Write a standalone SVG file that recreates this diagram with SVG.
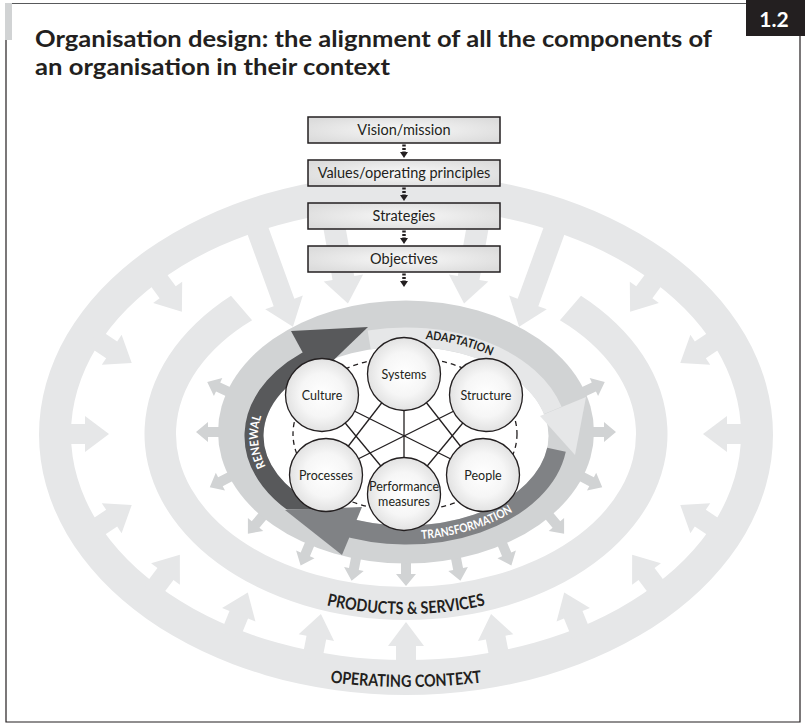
<svg xmlns="http://www.w3.org/2000/svg" width="805" height="727" viewBox="0 0 805 727">
<defs>
<style>
.t{font-family:Lato,"Liberation Sans",Arial,sans-serif;fill:#231f20}
.w{fill:#fff}
.b{font-weight:700}
.lt{fill:#e6e7e8}
.md{fill:#d1d3d4}
.bx{fill:url(#gb);stroke:#231f20;stroke-width:1.5}
.cir{fill:url(#gc);stroke:#231f20;stroke-width:1.3}
.ln{stroke:#231f20;stroke-width:1.3;fill:none}
.dl{stroke:#231f20;stroke-width:3.5;stroke-dasharray:2 1.5;fill:none;marker-end:url(#ah)}
.ct{font-size:12.5px;text-anchor:middle}
.bt{font-size:14.5px;text-anchor:middle}
.rl{font-size:17px;font-weight:700;text-anchor:middle}
.il{font-size:12px;font-weight:700;text-anchor:middle}
</style>
<radialGradient id="gc" cx="0.5" cy="0.5" r="0.5"><stop offset="0" stop-color="#ffffff"/><stop offset="0.6" stop-color="#f6f6f6"/><stop offset="1" stop-color="#e2e2e2"/></radialGradient>
<radialGradient id="gb" cx="0.5" cy="0.5" r="0.6"><stop offset="0" stop-color="#f8f8f8"/><stop offset="1" stop-color="#dcdcdc"/></radialGradient>
<marker id="ah" viewBox="0 0 6 8" refX="0" refY="4" markerWidth="6" markerHeight="8" markerUnits="userSpaceOnUse" orient="auto"><path d="M0,0 L6,4 L0,8 Z" fill="#231f20"/></marker>
<polygon id="oa" points="-8,-10 14,-10 14,-18 38,0 14,18 14,10 -8,10"/>
<polygon id="ia" points="-6,-5 10,-5 10,-10 22,0 10,10 10,5 -6,5"/>
<polygon id="la1" points="-8,-11 76,-11 76,-20 102,0 76,20 76,11 -8,11"/>
<polygon id="la2" points="-8,-11 65,-11 65,-20 91,0 65,20 65,11 -8,11"/>
<clipPath id="cr"><rect x="200" y="300" width="200" height="209.5"/></clipPath>
<path id="pRen" d="M 277.8 483.5 A 148 95 0 0 1 270.8 397.4"/>
<path id="pAda" d="M 380 339.5 A 150 97 0 0 1 529 380.5"/>
<path id="pTra" d="M 384.2 538.5 A 156.5 103.5 0 0 0 541.5 487.8"/>
<path id="pPS" d="M 259.2 581.5 A 256 180 0 0 0 552.8 581.5"/>
<path id="pOC" d="M 206 653.1 A 400 253 0 0 0 606 653.1"/>
</defs>

<g id="frame">
<rect x="5" y="3" width="7" height="37" fill="#d1d3d4"/>
<path d="M12 3.5 H746" stroke="#58595b" stroke-width="1.2"/>
<path d="M6 40 V722 H800 V36" fill="none" stroke="#231f20" stroke-width="1.2"/>
<rect x="746" y="0" width="59" height="36" fill="#231f20"/>
<text class="t b w" x="774" y="27" font-size="21" text-anchor="middle">1.2</text>
<text class="t b" x="35" y="47" font-size="23" textLength="677" lengthAdjust="spacingAndGlyphs">Organisation design: the alignment of all the components of</text>
<text class="t b" x="35" y="75" font-size="23" textLength="355" lengthAdjust="spacingAndGlyphs">an organisation in their context</text>
</g>

<g id="operating-context" class="lt">
<path fill-rule="evenodd" d="M 39 434.5 A 367 260.5 0 1 0 773 434.5 A 367 260.5 0 1 0 39 434.5 Z M 71 434 A 335 226 0 1 0 741 434 A 335 226 0 1 0 71 434 Z"/>
<use href="#oa" transform="translate(406,660) rotate(-90)"/>
<use href="#oa" transform="translate(313.7,651.3) rotate(-79.05)"/>
<use href="#oa" transform="translate(233.5,627.7) rotate(-67.9)"/>
<use href="#oa" transform="translate(157.1,585.2) rotate(-53.2)"/>
<use href="#oa" transform="translate(100,525.9) rotate(-33.4)"/>
<use href="#oa" transform="translate(71,434) rotate(0)"/>
<use href="#oa" transform="translate(100,342.1) rotate(33.4)"/>
<use href="#oa" transform="translate(159.4,281) rotate(53.7)"/>
<use href="#oa" transform="translate(498.3,651.3) rotate(-100.95)"/>
<use href="#oa" transform="translate(578.5,627.7) rotate(-112.1)"/>
<use href="#oa" transform="translate(654.9,585.2) rotate(-126.8)"/>
<use href="#oa" transform="translate(712,525.9) rotate(-146.6)"/>
<use href="#oa" transform="translate(741,434) rotate(180)"/>
<use href="#oa" transform="translate(712,342.1) rotate(146.6)"/>
<use href="#oa" transform="translate(652.6,281) rotate(126.3)"/>
<use href="#la1" transform="translate(258,231) rotate(69.97)"/>
<use href="#la2" transform="translate(332,214) rotate(79.9)"/>
<use href="#la2" transform="translate(480,214) rotate(100.1)"/>
<use href="#la1" transform="translate(554,231) rotate(110.03)"/>
</g>

<g id="products-services">
<path class="lt" d="M 581 295.8 A 261.5 186 0 1 1 231 295.8 L 252.1 320.3 A 230 153 0 1 0 559.9 320.3 Z"/>
</g>

<g id="inner-ring">
<g class="md">
<use href="#ia" transform="translate(406,564) rotate(90)"/>
<use href="#ia" transform="translate(355.8,559.2) rotate(101)"/>
<use href="#ia" transform="translate(309.2,545.2) rotate(112.9)"/>
<use href="#ia" transform="translate(262,516.8) rotate(129.9)"/>
<use href="#ia" transform="translate(229.3,477.1) rotate(152.6)"/>
<use href="#ia" transform="translate(218,432) rotate(180)"/>
<use href="#ia" transform="translate(227.2,391.2) rotate(204.8)"/>
<use href="#ia" transform="translate(456.2,559.2) rotate(79)"/>
<use href="#ia" transform="translate(502.8,545.2) rotate(67.1)"/>
<use href="#ia" transform="translate(550,516.8) rotate(50.1)"/>
<use href="#ia" transform="translate(582.7,477.1) rotate(27.4)"/>
<use href="#ia" transform="translate(594,432) rotate(0)"/>
<use href="#ia" transform="translate(584.8,391.2) rotate(-24.8)"/>
</g>
<ellipse cx="406" cy="432" rx="188" ry="131.5" fill="#d1d3d4"/>
<ellipse cx="406" cy="436" rx="142.5" ry="89.5" fill="#ffffff"/>
<path d="M 556.5 449.8 A 152 99 0 0 1 339.4 525" stroke="#808285" stroke-width="19" fill="none"/>
<path d="M 312.4 514 A 152 99 0 0 1 318.8 354.9" stroke="#58595b" stroke-width="19" fill="none" clip-path="url(#cr)"/>
<path d="M 369.2 339.9 A 152 99 0 0 1 552.8 410.4" stroke="#e6e7e8" stroke-width="19" fill="none"/>
<polygon points="285,510 362,507 342,555" fill="#808285"/>
<polygon points="368,327 291,331 316,377" fill="#58595b"/>
<polygon points="586,397 540,416 575,455" fill="#e6e7e8"/>
<text class="t il w"><textPath href="#pRen" startOffset="50%" textLength="52" lengthAdjust="spacingAndGlyphs">RENEWAL</textPath></text>
<text class="t il"><textPath href="#pAda" startOffset="50%" textLength="68" lengthAdjust="spacingAndGlyphs">ADAPTATION</textPath></text>
<text class="t il w"><textPath href="#pTra" startOffset="50%" textLength="96" lengthAdjust="spacingAndGlyphs">TRANSFORMATION</textPath></text>
</g>

<g id="connectors">
<ellipse cx="405" cy="434" rx="112" ry="77" class="ln" stroke-dasharray="5 4"/>
<line class="ln" x1="404" y1="374" x2="404" y2="494"/>
<line class="ln" x1="322" y1="395" x2="483" y2="475"/>
<line class="ln" x1="486" y1="395" x2="326" y2="475"/>
<line class="ln" x1="404" y1="374" x2="326" y2="475"/>
<line class="ln" x1="404" y1="374" x2="483" y2="475"/>
<line class="ln" x1="322" y1="395" x2="404" y2="494"/>
<line class="ln" x1="486" y1="395" x2="404" y2="494"/>
<line class="dl" x1="404" y1="144.5" x2="404" y2="152"/>
<line class="dl" x1="404" y1="187.5" x2="404" y2="195"/>
<line class="dl" x1="404" y1="230.5" x2="404" y2="238"/>
<line class="dl" x1="404" y1="273.5" x2="404" y2="281"/>
</g>

<g id="node-systems"><circle class="cir" cx="404" cy="374" r="36.5"/><text class="t ct" x="404" y="378.5">Systems</text></g>
<g id="node-culture"><circle class="cir" cx="322" cy="395" r="36.5"/><text class="t ct" x="322" y="399.5">Culture</text></g>
<g id="node-structure"><circle class="cir" cx="486" cy="395" r="36.5"/><text class="t ct" x="486" y="399.5">Structure</text></g>
<g id="node-processes"><circle class="cir" cx="326" cy="475" r="36.5"/><text class="t ct" x="326" y="479.5">Processes</text></g>
<g id="node-people"><circle class="cir" cx="483" cy="475" r="36.5"/><text class="t ct" x="483" y="479.5">People</text></g>
<g id="node-performance"><circle class="cir" cx="404" cy="494" r="36.5"/><text class="t ct" x="404" y="490.5">Performance</text><text class="t ct" x="404" y="505.5">measures</text></g>

<g id="node-vision"><rect class="bx" x="308" y="117" width="192" height="26"/><text class="t bt" x="404" y="135">Vision/mission</text></g>
<g id="node-values"><rect class="bx" x="308" y="160" width="192" height="26"/><text class="t bt" x="404" y="178">Values/operating principles</text></g>
<g id="node-strategies"><rect class="bx" x="308" y="203" width="192" height="26"/><text class="t bt" x="404" y="221">Strategies</text></g>
<g id="node-objectives"><rect class="bx" x="308" y="246" width="192" height="26"/><text class="t bt" x="404" y="264">Objectives</text></g>

<g id="ring-labels">
<text class="t rl"><textPath href="#pPS" startOffset="50%" textLength="160" lengthAdjust="spacingAndGlyphs">PRODUCTS &amp; SERVICES</textPath></text>
<text class="t rl"><textPath href="#pOC" startOffset="50%" textLength="152" lengthAdjust="spacingAndGlyphs">OPERATING CONTEXT</textPath></text>
</g>
</svg>
